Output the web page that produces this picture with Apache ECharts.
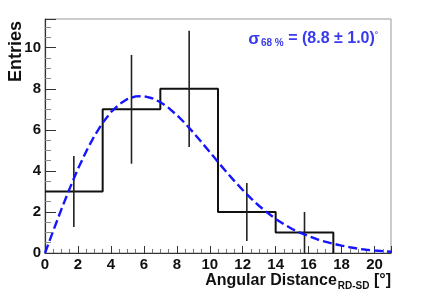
<!DOCTYPE html>
<html>
<head>
<meta charset="utf-8">
<script src="https://cdn.jsdelivr.net/npm/echarts@6/dist/echarts.min.js"></script>
<style>html,body{margin:0;padding:0;background:#fff;}#c{width:421px;height:303px;}</style>
</head>
<body>
<div id="c"></div>
<script>
// Histogram bins (edges) and entries
var binEdges = [0, 3.5, 7, 10.5, 14, 17.5];
var binCounts = [3, 7, 8, 2, 1];
// Error bars: centre, low, high
var errCenters = [1.75, 5.25, 8.75, 12.25, 15.75];
var errLow = [1.27, 4.35, 5.17, 0.59, 0.0];
var errHigh = [4.73, 9.65, 10.83, 3.41, 2.0];
// Fitted curve
var fitX = [0,0.5,1,1.5,2,2.5,3,3.5,4,4.5,5,5.5,6,6.5,7,7.5,8,8.5,9,9.5,10,10.5,11,11.5,12,12.5,13,13.5,14,14.5,15,15.5,16,16.5,17,17.5,18,18.5,19,19.5,20,20.5,21];
var fitY = [0,1.08,2.14,3.15,4.10,4.95,5.71,6.34,6.86,7.24,7.50,7.63,7.64,7.54,7.35,7.07,6.72,6.32,5.87,5.40,4.92,4.43,3.96,3.50,3.07,2.66,2.29,1.96,1.66,1.40,1.17,0.98,0.82,0.67,0.55,0.45,0.36,0.28,0.21,0.16,0.12,0.09,0.06];
var xTicks = [0,2,4,6,8,10,12,14,16,18,20];
var yTicks = [0,2,4,6,8,10];

var histPts = [];
for (var i = 0; i < binCounts.length; i++) {
  histPts.push([binEdges[i], binCounts[i]]);
  histPts.push([binEdges[i+1], binCounts[i]]);
}
histPts.push([binEdges[binEdges.length-1], 0]);

var errData = errCenters.map(function(c,i){return [c, errLow[i], errHigh[i]];});
var fitData = fitX.map(function(x,i){return [x, fitY[i]];});

var chart = echarts.init(document.getElementById('c'), null, {renderer:'canvas'});
var FONT = '"Liberation Sans", Arial, sans-serif';
chart.setOption({
  animation: false,
  grid: {left: 45, right: 30, top: 19, bottom: 50, show: true, borderColor: '#999', borderWidth: 1, backgroundColor: 'transparent'},
  xAxis: {
    type: 'value', min: 0, max: 21, interval: 2,
    axisLine: {show: true, onZero: false, lineStyle: {color: '#333', width: 1.2}},
    axisTick: {show: true, inside: true, length: 7, lineStyle: {color: '#333', width: 1}},
    minorTick: {show: true, splitNumber: 4, length: 4, lineStyle: {color: '#777', width: 1}},
    splitLine: {show: false},
    axisLabel: {showMaxLabel: false, color: '#111', fontFamily: FONT, fontWeight: 'bold', fontSize: 15, margin: 4}
  },
  yAxis: {
    type: 'value', min: 0, max: 11.4, interval: 2,
    axisLine: {show: true, onZero: false, lineStyle: {color: '#333', width: 1.2}},
    axisTick: {show: true, inside: true, length: 11, lineStyle: {color: '#333', width: 1}},
    minorTick: {show: true, splitNumber: 4, length: 6, lineStyle: {color: '#888', width: 1}},
    splitLine: {show: false},
    axisLabel: {showMaxLabel: false, color: '#111', fontFamily: FONT, fontWeight: 'bold', fontSize: 15, margin: 4}
  },
  series: [
    {
      type: 'line', data: histPts, symbol: 'none', z: 3,
      lineStyle: {color: '#111', width: 2}
    },
    {
      type: 'custom', z: 4,
      renderItem: function(params, api){
        var p1 = api.coord([api.value(0), api.value(1)]);
        var p2 = api.coord([api.value(0), api.value(2)]);
        return {type: 'line', shape: {x1: p1[0], y1: p1[1], x2: p2[0], y2: p2[1]},
          style: {stroke: '#222', lineWidth: 1.6}};
      },
      data: errData
    },
    {
      type: 'line', data: fitData, symbol: 'none', z: 5, smooth: false,
      lineStyle: {color: '#1515ff', width: 2.4, type: [9, 4]}
    }
  ],
  graphic: [
    {type: 'text',
      style: {text: 'Entries', font: 'bold 18px ' + FONT, fill: '#111'},
      position: [7, 82], rotation: Math.PI/2},
    {type: 'text', position: [391, 281],
      style: {
        text: '{m|Angular Distance}{s|RD-SD}{m| [°]}',
        align: 'right', verticalAlign: 'middle',
        rich: {
          m: {font: 'bold 16px ' + FONT, fill: '#111'},
          s: {font: 'bold 10px ' + FONT, fill: '#111', padding: [11, 0, 0, 1]}
        }
      }},
    {type: 'text', position: [378, 39],
      style: {
        text: '{g|σ}{s|68 %}{m| = (8.8 ± 1.0)}{u|°}',
        align: 'right', verticalAlign: 'middle',
        rich: {
          g: {font: 'bold 17px ' + FONT, fill: '#3a3aee'},
          s: {font: 'bold 10px ' + FONT, fill: '#3a3aee', padding: [8, 0, 0, 1]},
          m: {font: 'bold 16px ' + FONT, fill: '#3a3aee'},
          u: {font: 'bold 8px ' + FONT, fill: '#3a3aee', padding: [0, 0, 8, 0]}
        }
      }}
  ]
});
</script>
</body>
</html>
